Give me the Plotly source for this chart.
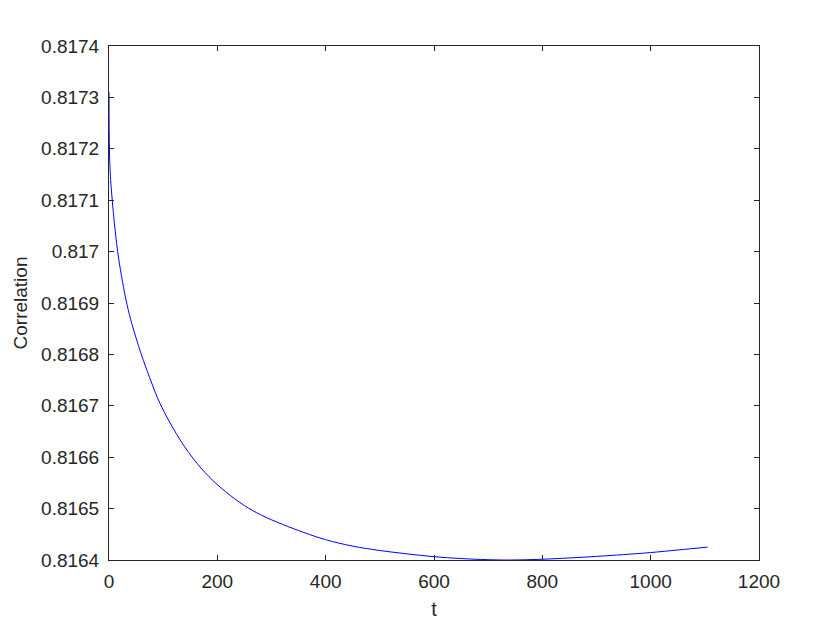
import plotly.graph_objects as go

t_vals = [0, 1, 3, 6, 10, 16, 23, 31, 40, 50, 60, 75, 94, 125, 155, 185, 215, 250,
          280, 320, 360, 400, 450, 500, 550, 600, 650, 700, 740, 800, 850, 900, 950,
          1000, 1050, 1105]
corr_vals = [0.81731, 0.81719, 0.81714, 0.81710, 0.817055, 0.81700, 0.816953, 0.816908,
             0.816868, 0.816832, 0.816799, 0.816755, 0.816705, 0.8166445, 0.816598,
             0.8165617, 0.8165332, 0.816506, 0.816488, 0.8164695, 0.8164535, 0.8164395,
             0.816427, 0.8164185, 0.816412, 0.8164065, 0.8164028, 0.8164006, 0.8164,
             0.8164015, 0.816404, 0.816407, 0.8164105, 0.8164145, 0.8164195, 0.816425]

x_ticks = [0, 200, 400, 600, 800, 1000, 1200]
y_ticks = [0.8164, 0.8165, 0.8166, 0.8167, 0.8168, 0.8169, 0.817, 0.8171, 0.8172, 0.8173, 0.8174]
y_tick_text = ["0.8164", "0.8165", "0.8166", "0.8167", "0.8168", "0.8169", "0.817",
               "0.8171", "0.8172", "0.8173", "0.8174"]

FONT = "Liberation Sans, Arial, sans-serif"

fig = go.Figure()
fig.add_trace(go.Scatter(x=t_vals, y=corr_vals, mode="lines",
                         line=dict(color="#0000ff", width=1, shape="spline", smoothing=1.1),
                         showlegend=False))

axis_common = dict(showline=True, linecolor="#262626", linewidth=1, mirror="ticks",
                   ticks="inside", ticklen=5, tickcolor="#262626", tickwidth=1,
                   showgrid=False, zeroline=False,
                   tickfont=dict(family=FONT, size=19, color="#262626"))

fig.update_layout(
    width=832, height=622,
    margin=dict(l=101, r=81, t=38, b=70),
    paper_bgcolor="white", plot_bgcolor="white",
    xaxis=dict(range=[0, 1200], tickvals=x_ticks, ticklabelstandoff=4,
               title=dict(text="t", font=dict(family=FONT, size=20, color="#262626"), standoff=11),
               **axis_common),
    yaxis=dict(range=[0.8164, 0.8174], tickvals=y_ticks, ticktext=y_tick_text, ticklabelstandoff=5,
               title=dict(text="Correlation", font=dict(family=FONT, size=19, color="#262626"), standoff=8),
               **axis_common),
)

fig.write_html("out.html")
